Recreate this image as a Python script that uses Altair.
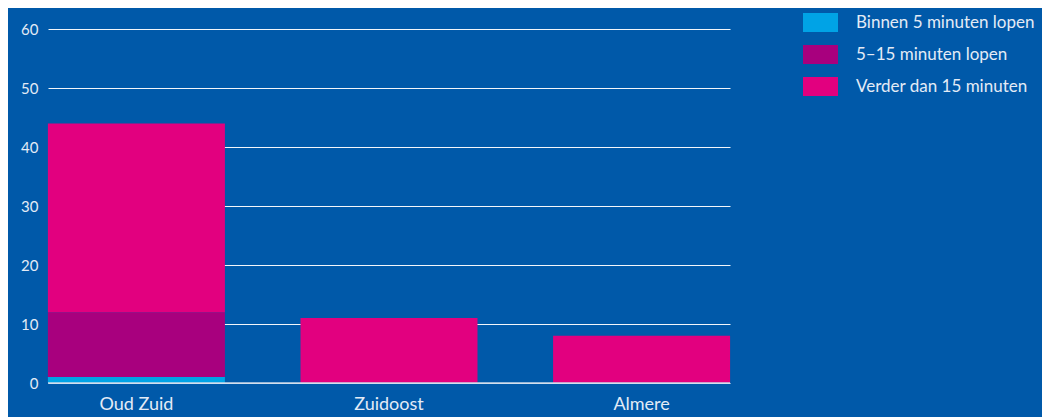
import altair as alt
import pandas as pd

regions = ["Oud Zuid", "Zuidoost", "Almere"]
categories = ["Binnen 5 minuten lopen", "5–15 minuten lopen", "Verder dan 15 minuten"]
binnen_5 = [1, 0, 0]
min_5_15 = [11, 0, 0]
verder_15 = [32, 11, 8]
colors = ["#00A3E6", "#A8007E", "#E2007F"]
y_ticks = [0, 10, 20, 30, 40, 50, 60]

rows = []
for series_idx, (cat, vals) in enumerate(zip(categories, [binnen_5, min_5_15, verder_15])):
    for r, v in zip(regions, vals):
        rows.append({"region": r, "category": cat, "value": v, "order": series_idx})
df = pd.DataFrame(rows)

bg = "#0059A9"
txt = "#E3EBF6"
font = "Lato"

bars = alt.Chart(df).mark_bar(size=177).encode(
    x=alt.X("region:N", sort=regions, title=None,
            scale=alt.Scale(paddingInner=0.3, paddingOuter=0),
            axis=alt.Axis(labelAngle=0, labelFontSize=18, labelColor=txt, labelFont=font,
                          labelPadding=12, ticks=False, domain=False, grid=False)),
    y=alt.Y("value:Q", stack="zero", title=None,
            scale=alt.Scale(domain=[0, 60], nice=False),
            axis=alt.Axis(values=y_ticks, labelFontSize=15, labelColor=txt, labelFont=font,
                          labelPadding=10, ticks=False, domain=False,
                          grid=True, gridColor="#FFFFFF", gridWidth=1, gridOpacity=0.95)),
    color=alt.Color("category:N", sort=categories,
                    scale=alt.Scale(domain=categories, range=colors),
                    legend=alt.Legend(title=None, orient="none", legendX=755, legendY=-24,
                                      symbolType="M-1,-0.54L1,-0.54L1,0.54L-1,0.54Z",
                                      symbolSize=1225, symbolStrokeWidth=0, symbolOpacity=1,
                                      labelFontSize=17, labelColor=txt, labelFont=font,
                                      labelLimit=300, labelOffset=18, rowPadding=5)),
    order=alt.Order("order:Q"),
)

baseline = alt.Chart(pd.DataFrame({"y": [0]})).mark_rule(color="#C9D7EA", strokeWidth=1.5).encode(
    y=alt.Y("y:Q")
)

chart = alt.layer(bars, baseline).properties(
    width=682, height=354,
    background=bg,
    padding={"left": 40, "top": 21, "right": 312, "bottom": 34},
    autosize=alt.AutoSizeParams(type="none"),
).configure_view(stroke=None).configure_axis(labelFont=font)

chart.save("out.html", embed_options={"renderer": "svg", "actions": False})
